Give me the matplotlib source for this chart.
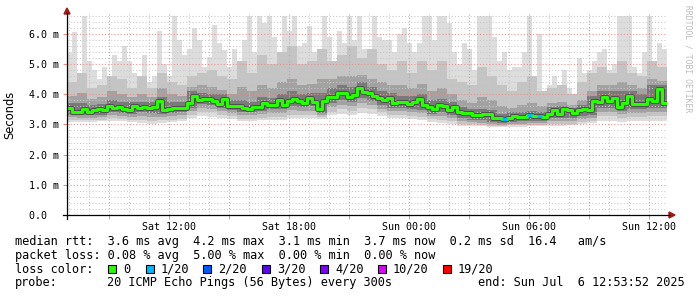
import matplotlib
matplotlib.use("Agg")
import matplotlib.pyplot as plt
from matplotlib.patches import Rectangle, Polygon
from matplotlib.lines import Line2D
from matplotlib.ticker import MultipleLocator, FuncFormatter
import numpy as np

W, H = 697, 297

# hours since Sat 00:00, the graph covers the 30 h ending Sun 12:53:52
t_end = 24 + 12 + 53 / 60 + 52 / 3600
t_start = t_end - 30

# median rtt in ms, one value per 15 min
median = [
    3.55, 3.42, 3.42, 3.50, 3.42, 3.48, 3.50, 3.47, 3.60, 3.55,
    3.57, 3.52, 3.47, 3.62, 3.55, 3.57, 3.55, 3.58, 3.78, 3.48,
    3.52, 3.55, 3.55, 3.55, 3.70, 3.95, 3.82, 3.86, 3.85, 3.78,
    3.68, 3.85, 3.62, 3.61, 3.61, 3.55, 3.52, 3.58, 3.59, 3.70,
    3.66, 3.65, 3.80, 3.65, 3.78, 3.85, 3.78, 3.72, 3.87, 3.76,
    3.50, 3.78, 3.92, 3.90, 4.05, 4.05, 3.92, 3.98, 4.20, 4.09,
    4.03, 3.95, 3.87, 3.80, 3.87, 3.70, 3.75, 3.75, 3.68, 3.76,
    3.86, 3.65, 3.57, 3.52, 3.65, 3.60, 3.48, 3.58, 3.40, 3.37,
    3.37, 3.32, 3.30, 3.35, 3.35, 3.20, 3.22, 3.17, 3.20, 3.28,
    3.26, 3.24, 3.33, 3.28, 3.28, 3.26, 3.35, 3.47, 3.35, 3.50,
    3.48, 3.39, 3.48, 3.52, 3.48, 3.78, 3.76, 3.92, 3.78, 3.88,
    3.59, 3.72, 3.94, 3.68, 3.67, 3.67, 3.83, 3.78, 4.18, 3.70,
]

# lost pings (of 20) for the same samples
loss = [
    0, 0, 0, 0, 0, 0, 0, 0, 0, 0, 0, 0, 0, 0, 0, 0, 0, 0, 0, 0,
    0, 0, 0, 0, 0, 0, 0, 0, 0, 0, 0, 0, 0, 0, 0, 0, 0, 0, 0, 0,
    0, 0, 0, 0, 0, 0, 0, 0, 0, 0, 0, 0, 0, 0, 0, 0, 0, 0, 0, 0,
    0, 0, 0, 0, 0, 0, 0, 0, 0, 0, 0, 0, 0, 0, 0, 0, 0, 0, 0, 0,
    0, 0, 0, 0, 0, 0, 0, 1, 0, 0, 0, 0, 1, 0, 1, 0, 0, 0, 0, 0,
    0, 0, 0, 0, 0, 0, 0, 0, 0, 0, 0, 0, 0, 0, 0, 0, 0, 0, 0, 0,
]

# slowest ping per 15 min (top of the smoke)
smoke_max = [
    5.36, 6.08, 4.60, 6.60, 5.10, 4.80, 4.50, 4.90, 4.30, 5.30,
    5.10, 5.60, 5.10, 4.70, 4.30, 5.30, 4.40, 4.60, 6.10, 5.00,
    4.60, 6.60, 5.80, 5.30, 5.50, 6.20, 5.80, 4.90, 5.25, 6.30,
    5.70, 5.47, 4.90, 5.50, 4.50, 5.80, 6.60, 5.40, 6.60, 6.35,
    6.60, 5.90, 5.40, 6.60, 6.10, 6.60, 5.60, 5.70, 6.25, 5.40,
    5.10, 6.60, 5.90, 5.10, 6.10, 5.70, 6.60, 5.80, 6.60, 5.50,
    5.40, 6.60, 5.90, 5.80, 5.80, 5.40, 6.00, 6.20, 5.70, 5.40,
    5.70, 6.60, 6.60, 5.80, 6.60, 6.60, 6.35, 5.40, 5.00, 5.70,
    5.50, 4.80, 6.60, 6.60, 6.60, 5.90, 5.10, 5.40, 4.80, 4.90,
    4.90, 5.40, 6.60, 4.40, 6.00, 4.00, 4.30, 4.60, 4.10, 4.80,
    4.20, 4.00, 5.20, 4.70, 4.80, 5.10, 5.40, 5.50, 4.80, 5.00,
    6.60, 6.60, 6.60, 4.90, 4.70, 5.40, 6.60, 5.10, 5.70, 5.50,
]

# inner smoke bands, one value per 30 min
smoke_top2 = [
    4.4, 4.7, 4.2, 4.3, 4.6, 4.5, 4.2, 4.6, 4.2, 4.7,
    4.4, 4.3, 4.6, 4.7, 4.8, 4.6, 4.5, 5.1, 4.7, 5.3,
    5.0, 5.4, 5.6, 5.0, 5.1, 5.5, 5.1, 5.3, 5.6, 5.2,
    5.5, 5.0, 4.8, 5.1, 4.7, 5.1, 4.8, 5.1, 4.5, 4.4,
    4.3, 4.9, 4.6, 4.3, 4.1, 4.4, 4.6, 4.1, 4.2, 4.3,
    4.0, 4.4, 4.7, 4.9, 4.7, 5.1, 4.7, 4.6, 5.1, 4.9,
]
smoke_top3 = [
    3.95, 4.05, 3.85, 3.90, 4.10, 4.00, 3.90, 4.00, 3.90, 4.20,
    4.00, 3.95, 4.25, 4.30, 4.25, 4.15, 4.00, 4.25, 4.10, 4.30,
    4.20, 4.40, 4.50, 4.30, 4.35, 4.50, 4.50, 4.60, 4.60, 4.65,
    4.50, 4.40, 4.30, 4.30, 4.20, 4.35, 4.10, 4.20, 4.00, 3.80,
    3.70, 3.90, 3.80, 3.60, 3.55, 3.65, 3.70, 3.60, 3.72, 3.75,
    3.65, 3.80, 4.10, 4.30, 4.30, 4.40, 4.30, 4.20, 4.50, 4.45,
]
smoke_top4 = [
    3.72, 3.70, 3.65, 3.68, 3.80, 3.75, 3.75, 3.75, 3.75, 3.92,
    3.75, 3.75, 4.10, 4.05, 4.02, 4.00, 3.80, 3.82, 3.75, 3.90,
    3.88, 4.00, 4.10, 4.00, 4.05, 4.05, 4.20, 4.30, 4.25, 4.40,
    4.25, 4.10, 4.05, 3.95, 3.95, 4.00, 3.80, 3.85, 3.75, 3.58,
    3.50, 3.50, 3.48, 3.36, 3.40, 3.42, 3.46, 3.42, 3.58, 3.60,
    3.56, 3.65, 3.95, 4.10, 4.10, 4.10, 4.10, 4.00, 4.30, 4.30,
]
smoke_bot4 = [
    3.32, 3.30, 3.30, 3.33, 3.40, 3.38, 3.34, 3.40, 3.38, 3.36,
    3.38, 3.40, 3.55, 3.68, 3.65, 3.55, 3.48, 3.42, 3.40, 3.45,
    3.50, 3.50, 3.62, 3.58, 3.60, 3.38, 3.72, 3.82, 3.75, 3.88,
    3.78, 3.65, 3.56, 3.56, 3.52, 3.48, 3.36, 3.40, 3.30, 3.20,
    3.16, 3.14, 3.08, 3.04, 3.08, 3.10, 3.12, 3.10, 3.20, 3.20,
    3.22, 3.28, 3.32, 3.55, 3.55, 3.45, 3.50, 3.50, 3.55, 3.55,
]
smoke_bot3 = [
    3.24, 3.22, 3.22, 3.25, 3.30, 3.28, 3.25, 3.28, 3.25, 3.26,
    3.28, 3.30, 3.45, 3.55, 3.52, 3.45, 3.38, 3.30, 3.30, 3.35,
    3.38, 3.38, 3.48, 3.44, 3.46, 3.30, 3.58, 3.66, 3.60, 3.72,
    3.64, 3.52, 3.44, 3.43, 3.40, 3.37, 3.27, 3.28, 3.20, 3.10,
    3.08, 3.06, 3.01, 2.99, 3.02, 3.03, 3.05, 3.04, 3.10, 3.10,
    3.12, 3.18, 3.22, 3.42, 3.42, 3.35, 3.38, 3.38, 3.42, 3.42,
]
smoke_bot2 = [
    3.16, 3.14, 3.14, 3.16, 3.20, 3.18, 3.15, 3.15, 3.10, 3.14,
    3.16, 3.18, 3.32, 3.42, 3.40, 3.33, 3.27, 3.18, 3.18, 3.22,
    3.25, 3.25, 3.32, 3.30, 3.32, 3.24, 3.42, 3.50, 3.45, 3.56,
    3.50, 3.40, 3.32, 3.30, 3.28, 3.25, 3.17, 3.16, 3.10, 3.02,
    3.00, 2.99, 2.96, 2.95, 2.97, 2.97, 2.98, 2.98, 3.02, 3.02,
    3.03, 3.08, 3.12, 3.28, 3.28, 3.22, 3.25, 3.25, 3.28, 3.28,
]
smoke_min = [
    3.08, 3.08, 3.08, 3.10, 3.12, 3.10, 3.08, 3.05, 3.00, 3.04,
    3.08, 3.10, 3.20, 3.28, 3.26, 3.22, 3.18, 3.10, 3.10, 3.14,
    3.15, 3.15, 3.20, 3.20, 3.22, 3.18, 3.30, 3.35, 3.30, 3.38,
    3.34, 3.28, 3.22, 3.20, 3.18, 3.15, 3.08, 3.06, 3.00, 2.95,
    2.95, 2.94, 2.92, 2.92, 2.93, 2.93, 2.94, 2.94, 2.96, 2.96,
    2.97, 3.00, 3.04, 3.12, 3.12, 3.08, 3.10, 3.10, 3.12, 3.12,
]

x_ticks = [12, 18, 24, 30, 36]
x_labels = ["Sat 12:00", "Sat 18:00", "Sun 00:00", "Sun 06:00", "Sun 12:00"]
y_ticks = [0, 1, 2, 3, 4, 5, 6]
y_labels = ["0.0  ", "1.0 m", "2.0 m", "3.0 m", "4.0 m", "5.0 m", "6.0 m"]

loss_keys = ["0", "1/20", "2/20", "3/20", "4/20", "10/20", "19/20"]
loss_colors = ["#26ff00", "#00b8ff", "#0059ff", "#5e00ff", "#7e00ff", "#dd00ff", "#ff0000"]
loss_limits = [0, 1, 2, 3, 4, 10, 19]

legend_rtt = "median rtt:  3.6 ms avg  4.2 ms max  3.1 ms min  3.7 ms now  0.2 ms sd  16.4   am/s"
legend_loss = "packet loss: 0.08 % avg  5.00 % max  0.00 % min  0.00 % now"
probe_text = "20 ICMP Echo Pings (56 Bytes) every 300s"
end_text = "end: Sun Jul  6 12:53:52 2025"

MONO = "DejaVu Sans Mono"
GRID_MAJOR = "#f08c8c"
GRID_MINOR = "#c8c8c8"


def px(x, y):
    return (x / W, 1 - y / H)


def ext(a):
    a = np.asarray(a, dtype=float)
    return np.append(a, a[-1])


def loss_color(n):
    c = loss_colors[0]
    for lim, col in zip(loss_limits, loss_colors):
        if n >= lim:
            c = col
    return c


fig = plt.figure(figsize=(W / 100, H / 100), dpi=100)
fig.patch.set_facecolor("white")
ax = fig.add_axes([67 / W, (H - 215) / H, 600 / W, 201 / H])

t15 = t_start + 0.25 * np.arange(len(median) + 1)
t30 = t_start + 0.5 * np.arange(len(smoke_top2) + 1)

# smoke, lightest (outermost pings) first
ax.fill_between(t15, ext(np.repeat(smoke_min, 2)), ext(smoke_max), step="post",
                color="#dddddd", lw=0, zorder=1)
ax.fill_between(t30, ext(smoke_bot2), ext(smoke_top2), step="post", color="#c4c4c4", lw=0, zorder=1.1)
ax.fill_between(t30, ext(smoke_bot3), ext(smoke_top3), step="post", color="#a2a2a2", lw=0, zorder=1.2)
ax.fill_between(t30, ext(smoke_bot4), ext(smoke_top4), step="post", color="#7a7a7a", lw=0, zorder=1.3)
ax.step(t15, ext(median), where="post", color="#4e4e4e", lw=3.6, zorder=2.8)

# median line coloured by loss
ax.step(t15, ext(median), where="post", color=loss_colors[0], lw=2.2, zorder=3)
for i, (m, n) in enumerate(zip(median, loss)):
    if n > 0:
        ax.hlines(m, t15[i], t15[i + 1], color=loss_color(n), lw=2.2, zorder=3.1)

ax.set_xlim(t_start, t_end)
ax.set_ylim(0, 6.66)

ax.xaxis.set_major_locator(MultipleLocator(3))
ax.xaxis.set_minor_locator(MultipleLocator(1))
lab = dict(zip(x_ticks, x_labels))
ax.xaxis.set_major_formatter(FuncFormatter(lambda v, p: lab.get(int(round(v)), "")))
ax.set_yticks(y_ticks)
ax.set_yticklabels(y_labels)
ax.yaxis.set_minor_locator(MultipleLocator(0.2))

ax.set_axisbelow(False)
ax.grid(which="major", color=GRID_MAJOR, linestyle=(0, (1, 2)), lw=0.75)
ax.grid(which="minor", color=GRID_MINOR, linestyle=(0, (1, 2)), lw=0.75)

for s in ax.spines.values():
    s.set_visible(False)
ax.tick_params(which="major", length=3, width=0.75, direction="out", color=GRID_MAJOR,
               labelcolor="black", labelsize=7.2)
ax.tick_params(which="minor", length=0)
ax.tick_params(axis="y", which="major", pad=3)
ax.tick_params(axis="x", which="major", pad=2)
for t in ax.get_xticklabels() + ax.get_yticklabels():
    t.set_family(MONO)

ax.set_ylabel("Seconds", fontsize=8.3, family="DejaVu Sans")
ax.yaxis.label.set_va("center")
ax.yaxis.set_label_coords(-(67 - 10) / 600, 0.5)

# axes with arrows
fig.add_artist(Line2D([px(63, 215)[0], px(669, 215)[0]], [px(63, 215)[1]] * 2,
                      color="black", lw=0.9, transform=fig.transFigure))
fig.add_artist(Line2D([px(67, 219)[0]] * 2, [px(67, 219)[1], px(67, 13)[1]],
                      color="black", lw=0.9, transform=fig.transFigure))
fig.add_artist(Polygon([px(669, 212), px(669, 218), px(675, 215)], closed=True,
                       color="#a01818", transform=fig.transFigure))
fig.add_artist(Polygon([px(64, 14), px(70, 14), px(67, 8)], closed=True,
                       color="#a01818", transform=fig.transFigure))

# watermark
fig.text(*px(688, 5), "RRDTOOL / TOBI OETIKER", rotation=270, va="top", ha="center",
         fontsize=5.8, color="#bcbcbc", family=MONO)

# legend block
fs = 8.6
fig.text(*px(15, 241.5), legend_rtt, fontsize=fs, family=MONO, va="center", ha="left")
fig.text(*px(15, 255.3), legend_loss, fontsize=fs, family=MONO, va="center", ha="left")
fig.text(*px(15, 269.2), "loss color:", fontsize=fs, family=MONO, va="center", ha="left")
box_x = [108, 146, 203, 262, 320, 378, 443]
for bx, key, col in zip(box_x, loss_keys, loss_colors):
    fig.add_artist(Rectangle(px(bx, 273), 8 / W, 8 / H, transform=fig.transFigure,
                             facecolor=col, edgecolor="black", lw=0.8))
    fig.text(*px(bx + 15, 269.2), key, fontsize=fs, family=MONO, va="center", ha="left")
fig.text(*px(15, 282.8), "probe:", fontsize=fs, family=MONO, va="center", ha="left")
fig.text(*px(107, 282.8), probe_text, fontsize=fs, family=MONO, va="center", ha="left")
fig.text(*px(478, 282.8), end_text, fontsize=fs, family=MONO, va="center", ha="left")

fig.savefig("out.png", dpi=100, facecolor="white")
